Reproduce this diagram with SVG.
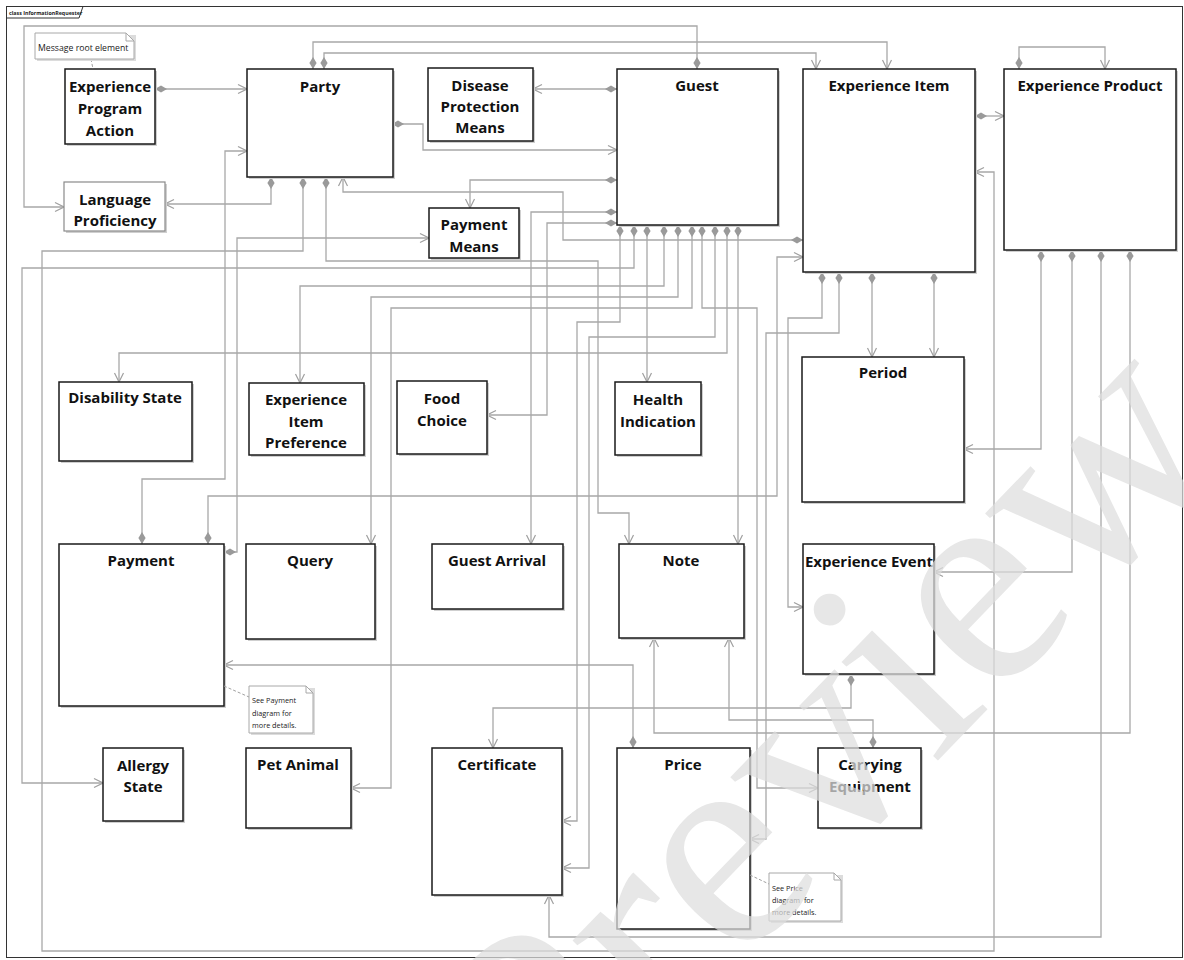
<svg xmlns="http://www.w3.org/2000/svg" width="1184" height="960" viewBox="0 0 1184 960">
<style>
.sh{fill:#cfcfcf}
.bx{fill:#fff;stroke:#1a1a1a;stroke-width:1.5}
.bxg{fill:#fff;stroke:#8a8a8a;stroke-width:1.2}
.t{font-family:"Open Sans","Liberation Sans",sans-serif;font-weight:700;font-size:15px;fill:#111;text-anchor:middle}
.nt{font-family:"Open Sans","Liberation Sans",sans-serif;font-size:8.7px;fill:#222}
.ns{font-family:"Open Sans","Liberation Sans",sans-serif;font-size:7.3px;fill:#222}
.note{fill:#fff;stroke:#a8a8a8;stroke-width:1}
.dl{fill:none;stroke:#a0a0a0;stroke-width:1;stroke-dasharray:3,2}
#connectors path{fill:none;stroke:#a8a8a8;stroke-width:1.3;marker-start:url(#dia);marker-end:url(#arr)}
</style>
<defs>
<marker id="arr" viewBox="-11 -6 12 12" refX="0" refY="0" markerWidth="12" markerHeight="12" orient="auto" markerUnits="userSpaceOnUse"><path d="M-9,-4.5 L0,0 L-9,4.5" fill="none" stroke="#a0a0a0" stroke-width="1.2"/></marker>
<marker id="dia" viewBox="-1 -5 14 10" refX="0" refY="0" markerWidth="14" markerHeight="10" orient="auto" markerUnits="userSpaceOnUse"><path d="M0,0 L6,-3.6 L12,0 L6,3.6Z" fill="#9a9a9a"/></marker>
</defs>
<rect width="1184" height="960" fill="#fff"/>
<g id="frame">
<rect x="6.5" y="6.5" width="1176" height="951" fill="none" stroke="#333" stroke-width="1"/>
<path d="M6.5,18 H79 L83,6.5" fill="none" stroke="#333" stroke-width="1"/>
<text x="9" y="15" font-family="Open Sans,Liberation Sans,sans-serif" font-size="5.3" font-weight="700" fill="#222">class InformationRequester</text>
</g>
<g id="connectors">
<path d="M697,69 V26 H24 V207 H64"/>
<path d="M313,69 V42 H887 V69"/>
<path d="M324,69 V53 H816 V69"/>
<path d="M155,89 H247"/>
<path d="M392,124 H423 V150 H617"/>
<path d="M617,89 H533"/>
<path d="M617,180 H470 V208"/>
<path d="M617,212 H531 V544"/>
<path d="M617,223 H547 V415 H487"/>
<path d="M803,240 H563 V192 H343 V177"/>
<path d="M271,177 V204 H165"/>
<path d="M303,177 V251 H42 V951 H994 V172 H975"/>
<path d="M326,177 V261 H598 V513 H629 V544"/>
<path d="M142,544 V479 H225 V151 H247"/>
<path d="M224,552 H237 V238 H429"/>
<path d="M208,544 V496 H777 V257 H803"/>
<path d="M633,748 V665 H224"/>
<path d="M872,272 V357"/>
<path d="M934,272 V357"/>
<path d="M822,272 V318 H788 V607 H803"/>
<path d="M839,272 V333 H766 V839 H750"/>
<path d="M975,116 H1004"/>
<path d="M1019,69 V47 H1105 V69"/>
<path d="M1041,250 V449 H964"/>
<path d="M1072,250 V572 H934"/>
<path d="M1101,250 V937 H549 V895"/>
<path d="M1130,250 V733 H654 V638"/>
<path d="M873,748 V720 H729 V638"/>
<path d="M851,674 V708 H493 V748"/>
<path d="M620,225 V322 H577 V821 H562"/>
<path d="M634,225 V268 H22 V783 H103"/>
<path d="M647,225 V382"/>
<path d="M664,225 V286 H300 V383"/>
<path d="M678,225 V297 H371 V544"/>
<path d="M692,225 V308 H391 V788 H351"/>
<path d="M702,225 V308 H757 V788 H818"/>
<path d="M715,225 V337 H589 V868 H562"/>
<path d="M727,225 V353 H119 V382"/>
<path d="M738,225 V544"/>
</g>
<g id="n-epa"><rect class="sh" x="67" y="71" width="90" height="75"/><rect class="bx" x="65" y="69" width="90" height="75"/><text class="t" x="110" y="92">Experience</text><text class="t" x="110" y="114">Program</text><text class="t" x="110" y="136">Action</text></g>
<g id="n-party"><rect class="sh" x="249" y="71" width="146" height="108"/><rect class="bx" x="247" y="69" width="146" height="108"/><text class="t" x="320" y="92">Party</text></g>
<g id="n-dpm"><rect class="sh" x="430" y="70" width="105" height="73"/><rect class="bx" x="428" y="68" width="105" height="73"/><text class="t" x="480" y="91">Disease</text><text class="t" x="480" y="112">Protection</text><text class="t" x="480" y="133">Means</text></g>
<g id="n-guest"><rect class="sh" x="619" y="71" width="161" height="156"/><rect class="bx" x="617" y="69" width="161" height="156"/><text class="t" x="697" y="91">Guest</text></g>
<g id="n-ei"><rect class="sh" x="805" y="71" width="172" height="203"/><rect class="bx" x="803" y="69" width="172" height="203"/><text class="t" x="889" y="91">Experience Item</text></g>
<g id="n-ep"><rect class="sh" x="1006" y="71" width="172" height="181"/><rect class="bx" x="1004" y="69" width="172" height="181"/><text class="t" x="1090" y="91">Experience Product</text></g>
<g id="n-lp"><rect class="sh" x="66" y="184" width="101" height="49"/><rect class="bxg" x="64" y="182" width="101" height="49"/><text class="t" x="115" y="205">Language</text><text class="t" x="115" y="226">Proficiency</text></g>
<g id="n-pm"><rect class="sh" x="431" y="210" width="90" height="50"/><rect class="bx" x="429" y="208" width="90" height="50"/><text class="t" x="474" y="230">Payment</text><text class="t" x="474" y="252">Means</text></g>
<g id="n-ds"><rect class="sh" x="61" y="384" width="133" height="79"/><rect class="bx" x="59" y="382" width="133" height="79"/><text class="t" x="125" y="403">Disability State</text></g>
<g id="n-eip"><rect class="sh" x="251" y="385" width="115" height="72"/><rect class="bx" x="249" y="383" width="115" height="72"/><text class="t" x="306" y="405">Experience</text><text class="t" x="306" y="427">Item</text><text class="t" x="306" y="448">Preference</text></g>
<g id="n-fc"><rect class="sh" x="399" y="383" width="90" height="73"/><rect class="bx" x="397" y="381" width="90" height="73"/><text class="t" x="442" y="404">Food</text><text class="t" x="442" y="426">Choice</text></g>
<g id="n-hi"><rect class="sh" x="617" y="384" width="86" height="73"/><rect class="bx" x="615" y="382" width="86" height="73"/><text class="t" x="658" y="405">Health</text><text class="t" x="658" y="427">Indication</text></g>
<g id="n-period"><rect class="sh" x="804" y="359" width="162" height="145"/><rect class="bx" x="802" y="357" width="162" height="145"/><text class="t" x="883" y="378">Period</text></g>
<g id="n-payment"><rect class="sh" x="61" y="546" width="165" height="162"/><rect class="bx" x="59" y="544" width="165" height="162"/><text class="t" x="141" y="566">Payment</text></g>
<g id="n-query"><rect class="sh" x="248" y="546" width="129" height="95"/><rect class="bx" x="246" y="544" width="129" height="95"/><text class="t" x="310" y="566">Query</text></g>
<g id="n-ga"><rect class="sh" x="434" y="546" width="131" height="65"/><rect class="bx" x="432" y="544" width="131" height="65"/><text class="t" x="497" y="566">Guest Arrival</text></g>
<g id="n-note"><rect class="sh" x="621" y="546" width="125" height="94"/><rect class="bx" x="619" y="544" width="125" height="94"/><text class="t" x="681" y="566">Note</text></g>
<g id="n-ee"><rect class="sh" x="805" y="546" width="131" height="130"/><rect class="bx" x="803" y="544" width="131" height="130"/><text class="t" x="869" y="567">Experience Event</text></g>
<g id="n-as"><rect class="sh" x="105" y="750" width="80" height="73"/><rect class="bx" x="103" y="748" width="80" height="73"/><text class="t" x="143" y="771">Allergy</text><text class="t" x="143" y="792">State</text></g>
<g id="n-pa"><rect class="sh" x="248" y="750" width="105" height="80"/><rect class="bx" x="246" y="748" width="105" height="80"/><text class="t" x="298" y="770">Pet Animal</text></g>
<g id="n-cert"><rect class="sh" x="434" y="750" width="130" height="147"/><rect class="bx" x="432" y="748" width="130" height="147"/><text class="t" x="497" y="770">Certificate</text></g>
<g id="n-price"><rect class="sh" x="619" y="750" width="133" height="181"/><rect class="bx" x="617" y="748" width="133" height="181"/><text class="t" x="683" y="770">Price</text></g>
<g id="n-ce"><rect class="sh" x="820" y="750" width="103" height="80"/><rect class="bx" x="818" y="748" width="103" height="80"/><text class="t" x="870" y="770">Carrying</text><text class="t" x="870" y="792">Equipment</text></g>
<g id="note-root"><path class="dl" d="M91,59 L93,69"/><rect x="37" y="35" width="99" height="26" fill="#dcdcdc"/><path class="note" d="M35,33 H126 L134,41 V59 H35 Z"/><path d="M126,33 V41 H134" fill="none" stroke="#a8a8a8"/><text class="nt" x="38" y="51">Message root element</text></g>
<g id="note-payment"><path class="dl" d="M224,686 L249,697"/><rect x="251" y="688" width="64" height="47" fill="#dcdcdc"/><path class="note" d="M249,686 H306 L313,693 V733 H249 Z"/><path d="M306,686 V693 H313" fill="none" stroke="#a8a8a8"/><text class="ns" x="252" y="703">See Payment</text><text class="ns" x="252" y="716">diagram for</text><text class="ns" x="252" y="728">more details.</text></g>
<g id="note-price"><path class="dl" d="M750,875 L769,884"/><rect x="771" y="875" width="72" height="48" fill="#dcdcdc"/><path class="note" d="M769,873 H834 L841,880 V921 H769 Z"/><path d="M834,873 V880 H841" fill="none" stroke="#a8a8a8"/><text class="ns" x="772" y="891">See Price</text><text class="ns" x="772" y="903" xml:space="preserve">diagram  for</text><text class="ns" x="772" y="915">more details.</text></g>
<text x="893" y="807" transform="rotate(-46 893 807)" text-anchor="middle" font-family="Liberation Serif,serif" font-size="300" fill="#dedede" opacity="0.72">Preview</text>
</svg>
